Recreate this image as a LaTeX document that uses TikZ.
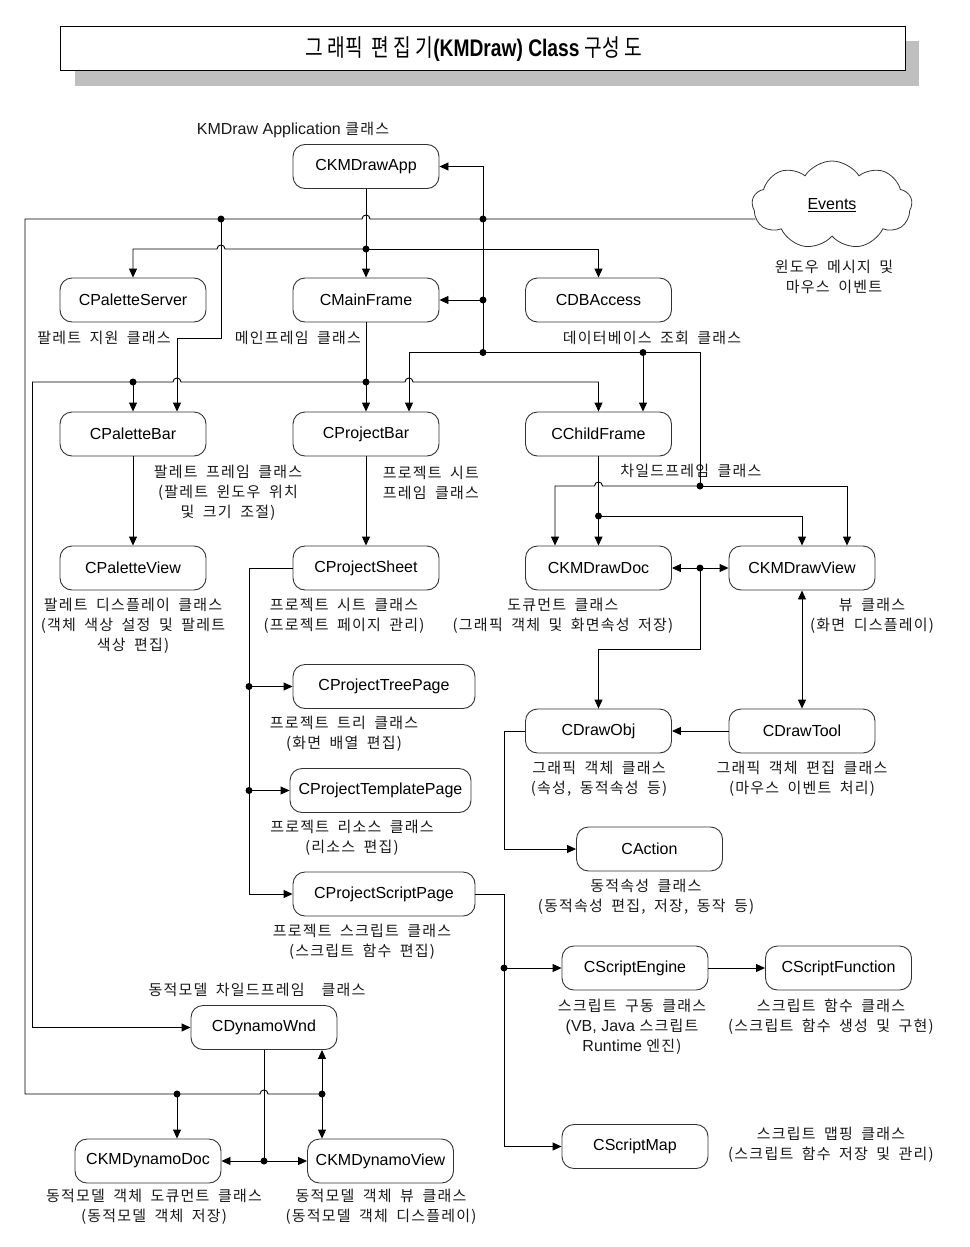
\documentclass[tikz,border=0pt]{standalone}
\usepackage{fontspec}
\usepackage{graphicx}
\setmainfont{Liberation Sans}
\newfontfamily\kr[LetterSpace=8]{Noto Sans CJK KR}
\newfontfamily\krt{Noto Sans CJK KR}
\newfontfamily\latf{Liberation Sans}
\newcommand\lat[1]{{\latf\fontsize{16}{20}\selectfont\spaceskip=0pt\relax #1}}
\newcommand\lblfont{\kr\fontsize{15}{20}\selectfont\spaceskip=8.5pt plus 1pt minus 1pt\relax}
\usetikzlibrary{arrows.meta,shapes.symbols}
\tikzset{
  box/.style={draw=black!80, line width=0.9pt, rounded corners=12pt, minimum width=146pt, minimum height=44pt, inner sep=0pt, font=\fontsize{16}{19}\selectfont},
  lbl/.style={align=center, inner sep=0pt, text=black!90, font=\lblfont},
  ln/.style={line width=0.9pt},
  arr/.style={ln, -{Triangle[length=9pt,width=8pt]}},
  darr/.style={ln, {Triangle[length=9pt,width=8pt]}-{Triangle[length=9pt,width=8pt]}},
  dot/.style={circle, fill, inner sep=0pt, minimum size=7pt},
}
\begin{document}
\begin{tikzpicture}[x=1pt,y=-1pt]
\useasboundingbox (0,0) rectangle (969,1247);
% title
\fill[black!25] (75,41) rectangle (919,86);
\node[draw, fill=white, line width=1pt, minimum width=845pt, minimum height=44pt, inner sep=0pt] (title) at (482.5,49) {};
\node[inner sep=0pt] (titletext) at (474,49)
  {\scalebox{0.8}[1]{\fontsize{24}{28}\selectfont{\krt 그 래픽 \ 편 집 기}\textbf{(KMDraw) Class} {\krt 구성 도}}};
% cloud
\node[cloud, draw=black!80, line width=0.8pt, cloud puffs=9, cloud puff arc=115, aspect=1.8, minimum width=160pt, minimum height=88pt, inner sep=0pt, font=\fontsize{16}{19}\selectfont] (events) at (832,205) {\underline{Events}};
% boxes
\node[box] (app) at (366,166.5) {CKMDrawApp};
\node[box] (pserver) at (133,300) {CPaletteServer};
\node[box] (mainf) at (366,300) {CMainFrame};
\node[box] (dba) at (598.5,300) {CDBAccess};
\node[box] (pbar) at (133,434) {CPaletteBar};
\node[box] (projbar) at (366,434) {CProjectBar};
\node[box] (child) at (598.5,434) {CChildFrame};
\node[box] (pview) at (133,568) {CPaletteView};
\node[box] (psheet) at (366,568) {CProjectSheet};
\node[box] (doc) at (598.5,568) {CKMDrawDoc};
\node[box] (view) at (802,568) {CKMDrawView};
\node[box, minimum width=182pt] (tree) at (384,686.5) {CProjectTreePage};
\node[box, minimum width=181pt] (templ) at (380.5,790.5) {CProjectTemplatePage};
\node[box, minimum width=182pt] (script) at (384,894) {CProjectScriptPage};
\node[box] (obj) at (598.5,731) {CDrawObj};
\node[box] (tool) at (802,731) {CDrawTool};
\node[box] (action) at (649.5,849) {CAction};
\node[box] (engine) at (635,968) {CScriptEngine};
\node[box] (func) at (838.5,968) {CScriptFunction};
\node[box] (smap) at (635,1146.5) {CScriptMap};
\node[box] (dwnd) at (264,1027.5) {CDynamoWnd};
\node[box] (ddoc) at (148,1161) {CKMDynamoDoc};
\node[box] (dview) at (380.5,1161) {CKMDynamoView};
% labels
\node[lbl] (lapp) at (293,130) {\lat{KMDraw Application }클래스};
\node[lbl] (lps) at (104,338) {팔레트 지원 클래스};
\node[lbl] (lmf) at (298,338) {메인프레임 클래스};
\node[lbl] (ldba) at (652,338) {데이터베이스 조회 클래스};
\node[lbl] (lev) at (834,277) {윈도우 메시지 및\\마우스 이벤트};
\node[lbl] (lpbar) at (228,493) {팔레트 프레임 클래스\\(팔레트 윈도우 위치\\및 크기 조절)};
\node[lbl] (lprojbar) at (431,483) {프로젝트 시트\\프레임 클래스};
\node[lbl] (lchild) at (691,471) {차일드프레임 클래스};
\node[lbl] (lpview) at (133,626) {팔레트 디스플레이 클래스\\(객체 색상 설정 및 팔레트\\색상 편집)};
\node[lbl] (lpsheet) at (344,616) {프로젝트 시트 클래스\\(프로젝트 페이지 관리)};
\node[lbl] (ldoc) at (563,616) {도큐먼트 클래스\\(그래픽 객체 및 화면속성 저장)};
\node[lbl] (lview) at (872,616) {뷰 클래스\\(화면 디스플레이)};
\node[lbl] (ltree) at (344,733.5) {프로젝트 트리 클래스\\(화면 배열 편집)};
\node[lbl] (ltempl) at (352,838) {프로젝트 리소스 클래스\\(리소스 편집)};
\node[lbl] (lscript) at (362,941.5) {프로젝트 스크립트 클래스\\(스크립트 함수 편집)};
\node[lbl] (lobj) at (599,778.5) {그래픽 객체 클래스\\(속성, 동적속성 등)};
\node[lbl] (ltool) at (802,778.5) {그래픽 객체 편집 클래스\\(마우스 이벤트 처리)};
\node[lbl] (laction) at (646,897) {동적속성 클래스\\(동적속성 편집, 저장, 동작 등)};
\node[lbl] (lengine) at (632,1027) {스크립트 구동 클래스\\\lat{(VB, Java }스크립트\\\lat{Runtime }엔진)};
\node[lbl] (lfunc) at (831,1017) {스크립트 함수 클래스\\(스크립트 함수 생성 및 구현)};
\node[lbl] (lsmap) at (831,1145) {스크립트 맵핑 클래스\\(스크립트 함수 저장 및 관리)};
\node[lbl] (ldwnd) at (257,990) {동적모델 차일드프레임 \ 클래스};
\node[lbl] (lddoc) at (154,1207) {동적모델 객체 도큐먼트 클래스\\(동적모델 객체 저장)};
\node[lbl] (ldview) at (381,1207) {동적모델 객체 뷰 클래스\\(동적모델 객체 디스플레이)};
% junctions
\coordinate (jEv1) at (221,219);
\coordinate (jEv2) at (483,219);
\coordinate (jB) at (366,249);
\coordinate (jMF) at (483,300);
\coordinate (jC) at (483,352.5);
\coordinate (jCF) at (643,352.5);
\coordinate (jR) at (700,486);
\coordinate (jP1) at (133,382);
\coordinate (jP2) at (366,382);
\coordinate (jK) at (598.5,516);
\coordinate (jDV) at (700,568);
\coordinate (jS1) at (249,686.5);
\coordinate (jS2) at (249,790.5);
\coordinate (jE) at (504,968);
\coordinate (jD1) at (177,1094);
\coordinate (jD2) at (322,1094);
\coordinate (jW) at (264,1161);
\coordinate (k177) at (177,338);
\coordinate (k409) at (409,352.5);
\coordinate (kL) at (32,382);
\coordinate (k555) at (555,486);
\coordinate (k847) at (847,486);
% events line
\draw[ln] (events.190 |- jEv2) -- (jEv2) -- (370,219) .. controls (370,213.7) and (362,213.7) .. (362,219) -- (jEv1) -- (25,219) -- (25,1094) -- (260,1094) .. controls (260,1088.7) and (268,1088.7) .. (268,1094) -- (jD2);
\draw[arr] (jD1) -- (jD1 |- ddoc.north);
\draw[darr] (jD2 |- dwnd.south) -- (jD2 |- dview.north);
\draw[arr] (jEv1) -- (221,338) -- (k177) -- (k177 |- pbar.north);
% app -> mainframe and y=249
\draw[arr] (app.south) -- (mainf.north);
\draw[arr] (jB) -- (225,249) .. controls (225,243.7) and (217,243.7) .. (217,249) -- (133,249) -- (pserver.north);
\draw[arr] (jB) -- (598.5,249) -- (dba.north);
% x=483
\draw[arr] (jC) -- (483,166.5) -- (app.east);
\draw[arr] (jMF) -- (mainf.east);
\draw[arr] (jC) -- (k409) -- (k409 |- projbar.north);
\draw[arr] (jCF) -- (jCF |- child.north);
\draw[ln] (jC) -- (700,352.5) -- (jR);
% y=382
\draw[arr] (kL) -- (jP1) -- (173,382) .. controls (173,376.7) and (181,376.7) .. (181,382) -- (jP2) -- (405,382) .. controls (405,376.7) and (413,376.7) .. (413,382) -- (598.5,382) -- (child.north);
\draw[arr] (kL) -- (kL |- dwnd.west) -- (dwnd.west);
\draw[arr] (jP1) -- (pbar.north);
\draw[arr] (mainf.south) -- (projbar.north);
\draw[arr] (pbar.south) -- (pview.north);
\draw[arr] (projbar.south) -- (psheet.north);
% project sheet
\draw[arr] (psheet.west) -- (249,568) -- (249,894) -- (script.west);
\draw[arr] (jS1) -- (tree.west);
\draw[arr] (jS2) -- (templ.west);
% script
\draw[arr] (script.east) -- (504,894) -- (504,1146.5) -- (smap.west);
\draw[arr] (jE) -- (engine.west);
\draw[arr] (engine.east) -- (func.west);
% child frame
\draw[arr] (child.south) -- (doc.north);
\draw[arr] (jK) -- (802,516) -- (view.north);
\draw[arr] (jR) -- (602.5,486) .. controls (602.5,480.7) and (594.5,480.7) .. (594.5,486) -- (k555) -- (k555 |- doc.north);
\draw[arr] (jR) -- (k847) -- (k847 |- view.north);
% doc / view
\draw[darr] (doc.east) -- (view.west);
\draw[arr] (jDV) -- (700,649) -- (598.5,649) -- (obj.north);
\draw[darr] (view.south) -- (tool.north);
\draw[arr] (tool.west) -- (obj.east);
\draw[arr] (obj.west) -- (504,731) -- (504,849) -- (action.west);
% dynamo
\draw[ln] (dwnd.south) -- (jW);
\draw[darr] (ddoc.east) -- (dview.west);
% dots
\foreach \p in {jEv1,jEv2,jB,jMF,jC,jCF,jR,jP1,jP2,jK,jDV,jS1,jS2,jE,jD1,jD2,jW}
  \node[dot] (d\p) at (\p) {};
\end{tikzpicture}
\end{document}
